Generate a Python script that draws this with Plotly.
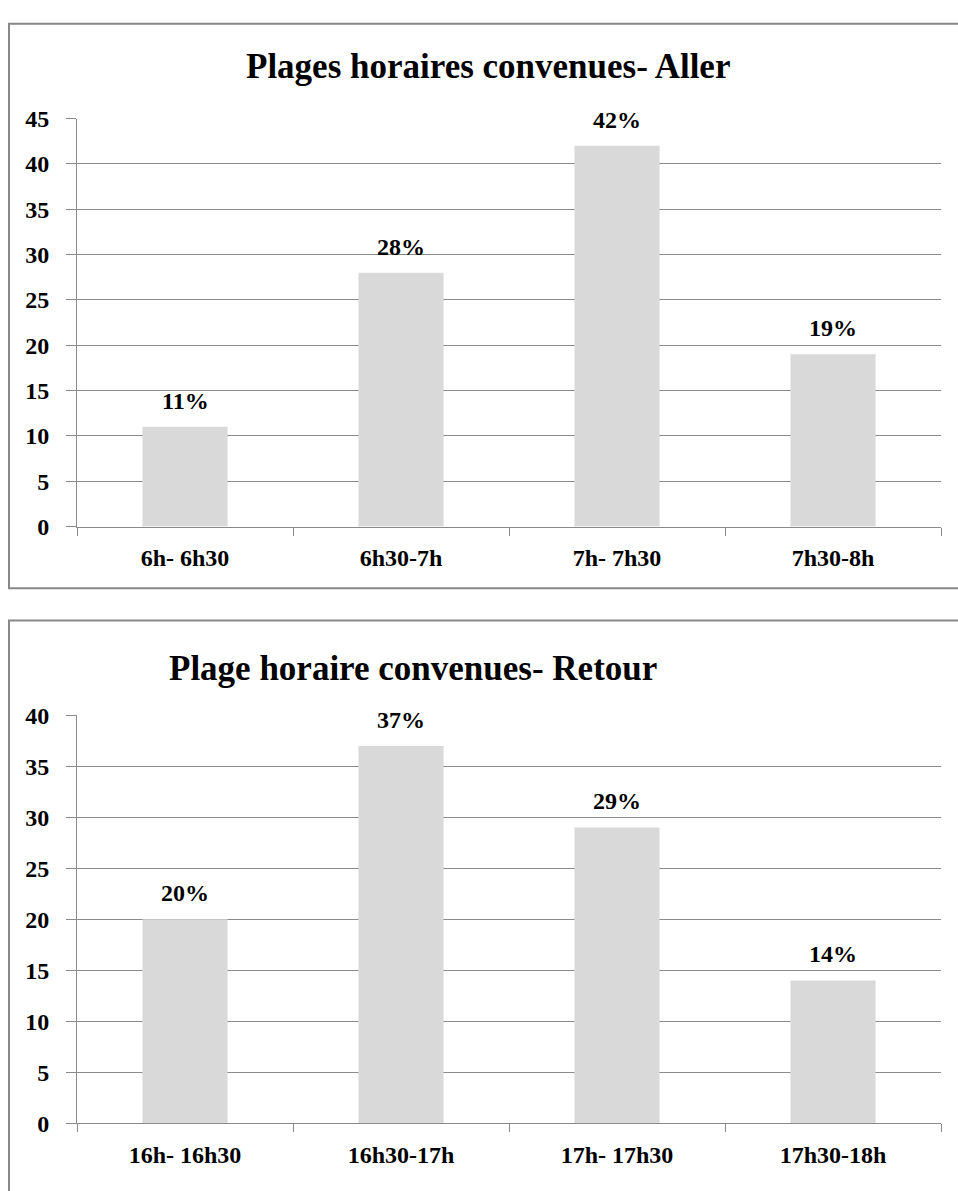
import plotly.graph_objects as go

W, H = 958, 1191

# ---- data ----
aller_categories = ["6h- 6h30", "6h30-7h", "7h- 7h30", "7h30-8h"]
aller_values = [11, 28, 42, 19]
aller_labels = ["11%", "28%", "42%", "19%"]

retour_categories = ["16h- 16h30", "16h30-17h", "17h- 17h30", "17h30-18h"]
retour_values = [20, 37, 29, 14]
retour_labels = ["20%", "37%", "29%", "14%"]

title_aller = "Plages horaires convenues- Aller"
title_retour = "Plage horaire convenues- Retour"

FONT = "Liberation Serif, Times New Roman, serif"
BAR = "#D9D9D9"
GRID = "#8A8A8A"
BORDER = "#888888"


def px(x):
    return x / W


def py(y):
    return 1 - y / H


fig = go.Figure()
fig.add_trace(go.Bar(x=aller_categories, y=aller_values, marker=dict(color=BAR, line=dict(width=0)),
                     xaxis="x", yaxis="y", showlegend=False, hoverinfo="x+y"))
fig.add_trace(go.Bar(x=retour_categories, y=retour_values, marker=dict(color=BAR, line=dict(width=0)),
                     xaxis="x2", yaxis="y2", showlegend=False, hoverinfo="x+y"))

xcommon = dict(
    type="category", range=[-0.5, 3.5], showgrid=False, showline=True, linecolor=GRID, linewidth=1,
    ticks="outside", tickson="boundaries", ticklen=8, tickcolor=GRID, tickwidth=1,
    tickfont=dict(family=FONT, size=24, color="black", weight="bold"),
    ticklabelstandoff=10, domain=[px(77), px(941)], fixedrange=True,
)
ycommon = dict(
    showgrid=True, gridcolor=GRID, gridwidth=1, showline=True, linecolor=GRID, linewidth=1,
    ticks="outside", ticklen=10, tickcolor=GRID, tickwidth=1, dtick=5, zeroline=False,
    tickfont=dict(family=FONT, size=24, color="black", weight="bold"),
    ticklabelstandoff=12, fixedrange=True,
)

LABEL_FONT = dict(family=FONT, size=24, color="black", weight="bold")
annotations = []
for cat, v, lab in zip(aller_categories, aller_values, aller_labels):
    annotations.append(dict(x=cat, y=v, xref="x", yref="y", text=lab, showarrow=False,
                            yanchor="bottom", yshift=11, font=LABEL_FONT))
for cat, v, lab in zip(retour_categories, retour_values, retour_labels):
    annotations.append(dict(x=cat, y=v, xref="x2", yref="y2", text=lab, showarrow=False,
                            yanchor="bottom", yshift=11, font=LABEL_FONT))

TITLE_FONT = dict(family=FONT, size=35, color="black", weight="bold")
annotations.append(dict(x=px(488), y=py(55), xref="paper", yref="paper", text=title_aller,
                        showarrow=False, xanchor="center", yanchor="middle", font=TITLE_FONT))
annotations.append(dict(x=px(413), y=py(670), xref="paper", yref="paper", text=title_retour,
                        showarrow=False, xanchor="center", yanchor="middle", font=TITLE_FONT))

shapes = [
    dict(type="rect", xref="paper", yref="paper", x0=px(9), x1=px(1000), y0=py(11), y1=py(588),
         line=dict(color=BORDER, width=2), fillcolor="rgba(0,0,0,0)", layer="below"),
    dict(type="rect", xref="paper", yref="paper", x0=px(9), x1=px(1000), y0=py(621), y1=py(1260),
         line=dict(color=BORDER, width=2), fillcolor="rgba(0,0,0,0)", layer="below"),
]

fig.update_layout(
    width=W, height=H, margin=dict(l=0, r=0, t=0, b=0),
    paper_bgcolor="white", plot_bgcolor="white",
    bargap=0.606,
    xaxis=dict(**xcommon, anchor="y"),
    yaxis=dict(**ycommon, range=[0, 45], domain=[py(525), py(108)], anchor="x"),
    xaxis2=dict(**xcommon, anchor="y2"),
    yaxis2=dict(**ycommon, range=[0, 40], domain=[py(1135), py(718)], anchor="x2"),
    annotations=annotations, shapes=shapes,
)

fig.write_html("out.html", config={"displayModeBar": False})
